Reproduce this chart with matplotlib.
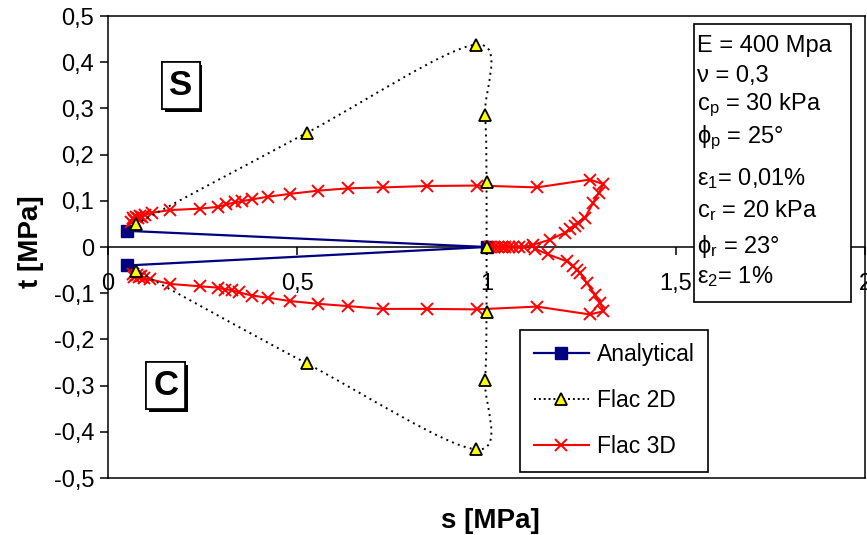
import numpy as np
import matplotlib
matplotlib.use("Agg")
import matplotlib.pyplot as plt
from matplotlib.path import Path
from matplotlib.patches import PathPatch, Rectangle
from matplotlib.lines import Line2D
from matplotlib.ticker import FuncFormatter
from matplotlib import patheffects

plt.rcParams['font.family'] = ['Liberation Sans', 'DejaVu Sans']
plt.rcParams['mathtext.fontset'] = 'custom'
plt.rcParams['mathtext.rm'] = 'Liberation Sans'
plt.rcParams['mathtext.it'] = 'Liberation Sans'

# analytical stress path
s_an = [0.05, 1.0, 0.05]
t_an = [0.035, 0.0, -0.04]

# Flac 2D (triangles, smoothed dotted line)
s_2d = [0.074, 0.525, 0.972, 0.996, 1.0, 1.0, 1.0, 0.996, 0.972, 0.525, 0.074]
t_2d = [0.050, 0.247, 0.438, 0.285, 0.140, 0.0, -0.141, -0.287, -0.438, -0.252, -0.051]

# Flac 3D, upper branch
s_3d_up = [0.060, 0.065, 0.070, 0.075, 0.080, 0.085, 0.090, 0.098, 0.115, 0.164, 0.243,
           0.291, 0.313, 0.336, 0.353, 0.380, 0.424, 0.481, 0.556, 0.635, 0.727, 0.842,
           0.974, 1.133, 1.273, 1.309, 1.296, 1.282, 1.260, 1.243, 1.234, 1.220, 1.207,
           1.168, 1.124, 1.100, 1.085, 1.070, 1.060, 1.050, 1.040, 1.030, 1.020, 1.010]
t_3d_up = [0.055, 0.062, 0.058, 0.066, 0.063, 0.068, 0.066, 0.070, 0.074, 0.080, 0.083,
           0.087, 0.092, 0.097, 0.099, 0.103, 0.109, 0.115, 0.122, 0.127, 0.129, 0.132,
           0.133, 0.129, 0.146, 0.136, 0.117, 0.096, 0.063, 0.052, 0.045, 0.038, 0.031,
           0.016, 0.005, 0.0, 0.0, 0.0, 0.0, 0.0, 0.0, 0.0, 0.0, 0.0]

# Flac 3D, lower branch
s_3d_lo = [1.128, 1.163, 1.212, 1.229, 1.238, 1.247, 1.265, 1.287, 1.300, 1.309, 1.273,
           1.133, 0.974, 0.842, 0.727, 0.635, 0.556, 0.481, 0.424, 0.380, 0.345, 0.327,
           0.310, 0.291, 0.243, 0.164, 0.111, 0.095, 0.088, 0.082, 0.076, 0.070, 0.066]
t_3d_lo = [-0.004, -0.016, -0.031, -0.042, -0.049, -0.056, -0.078, -0.103, -0.121, -0.139, -0.146,
           -0.129, -0.135, -0.134, -0.134, -0.128, -0.123, -0.117, -0.110, -0.105, -0.098, -0.093,
           -0.092, -0.088, -0.085, -0.080, -0.070, -0.068, -0.062, -0.066, -0.060, -0.064, -0.058]

params = ['E = 400 Mpa', 'ν = 0,3', r'c$_\mathrm{p}$ = 30 kPa', r'ϕ$_\mathrm{p}$ = 25°',
          r'ε$_\mathrm{1}$= 0,01%', r'c$_\mathrm{r}$ = 20 kPa', r'ϕ$_\mathrm{r}$ = 23°', r'ε$_\mathrm{2}$= 1%']


def smooth_path(xs, ys):
    # excel-like smoothed line (catmull-rom as bezier)
    pts = np.column_stack([xs, ys]).astype(float)
    n = len(pts)
    verts = [pts[0]]
    codes = [Path.MOVETO]
    for i in range(n - 1):
        p0 = pts[i - 1] if i > 0 else pts[i]
        p1 = pts[i]
        p2 = pts[i + 1]
        p3 = pts[i + 2] if i + 2 < n else pts[i + 1]
        verts += [p1 + (p2 - p0) / 6, p2 - (p3 - p1) / 6, p2]
        codes += [Path.CURVE4] * 3
    return Path(verts, codes)


fig = plt.figure(figsize=(8.67, 5.35), dpi=100)
ax = fig.add_axes([108 / 867, 1 - 478 / 535, 757 / 867, 462 / 535])

ax.plot(s_an, t_an, color='#000080', lw=1.6, marker='s', ms=9, mfc='#000080',
        mec='#000080', zorder=3)
ax.plot(s_3d_up, t_3d_up, color='red', lw=1.5, marker='x', ms=8.5, mew=1.4, zorder=4)
ax.plot(s_3d_lo, t_3d_lo, color='red', lw=1.5, marker='x', ms=8.5, mew=1.4, zorder=4)
ax.add_patch(PathPatch(smooth_path(s_2d, t_2d), fill=False, edgecolor='black', lw=1.4,
                       linestyle=(0, (1, 2.2)), zorder=5))
ax.plot(s_2d, t_2d, ls='none', marker='^', ms=8.5, mfc='yellow', mec='black', mew=1.3,
        zorder=6)

ax.set_xlim(0, 2)
ax.set_ylim(-0.5, 0.5)
ax.set_xticks([0, 0.5, 1, 1.5, 2])
ax.set_yticks(np.round(np.arange(-0.5, 0.51, 0.1), 1))


def comma(v, pos):
    txt = '%g' % round(v, 2)
    if txt == '-0':
        txt = '0'
    return txt.replace('.', ',')


ax.xaxis.set_major_formatter(FuncFormatter(comma))
ax.yaxis.set_major_formatter(FuncFormatter(comma))

ax.spines['bottom'].set_position(('data', 0))
for sp in ax.spines.values():
    sp.set_linewidth(1.1)
ax.plot([0, 1], [0, 0], transform=ax.transAxes, color='black', lw=1.1, clip_on=False)
ax.tick_params(axis='x', direction='out', length=5.5, width=1.1, pad=13, labelsize=17)
ax.tick_params(axis='y', direction='out', length=5.5, width=1.1, pad=4.5, labelsize=17)

ax.set_xlabel('s [MPa]', fontsize=20, fontweight='bold', va='center')
ax.xaxis.set_label_coords((490 - 108) / 757, (478 - 521) / 462)
ax.set_ylabel('t [MPa]', fontsize=20, fontweight='bold', va='center')
ax.yaxis.set_label_coords((31 - 108) / 757, (478 - 242) / 462)

# S / C labels
for lab, xs, ys in [('S', 0.193, 0.350), ('C', 0.153, -0.300)]:
    t = ax.text(xs, ys, lab, fontsize=25, fontweight='bold', ha='center', va='center',
                zorder=8, bbox=dict(boxstyle='square,pad=0.2', fc='white', ec='black', lw=1.2))
    t.get_bbox_patch().set_path_effects([
        patheffects.withSimplePatchShadow(offset=(2, -2), shadow_rgbFace='black', alpha=1),
        patheffects.Normal()])

# parameter box
ax.add_patch(Rectangle(((694 - 108) / 757, (478 - 302) / 462), (851 - 694) / 757,
                       (302 - 24) / 462, transform=ax.transAxes, fc='white', ec='black',
                       lw=1.2, zorder=10, clip_on=False))
baselines = [52, 82, 110, 143, 185, 217, 253, 283]
for txt, yb in zip(params, baselines):
    ax.text((697 - 108) / 757, (478 - yb) / 462, txt, transform=ax.transAxes, fontsize=17,
            ha='left', va='baseline', zorder=11)

handles = [
    Line2D([], [], color='#000080', lw=1.6, marker='s', ms=9, mfc='#000080', mec='#000080'),
    Line2D([], [], color='black', lw=1.4, ls=(0, (1, 1.5)), marker='^', ms=8.5, mfc='yellow',
           mec='black', mew=1.3),
    Line2D([], [], color='red', lw=1.5, marker='x', ms=8.5, mew=1.4),
]
leg = ax.legend(handles, ['Analytical', 'Flac 2D', 'Flac 3D'], loc='lower left',
                bbox_to_anchor=((520 - 108) / 757, (478 - 472) / 462), borderaxespad=0,
                fontsize=16.5, frameon=True, fancybox=False, edgecolor='black',
                framealpha=1, handlelength=2.4, handletextpad=0.35, labelspacing=1.0,
                borderpad=0.6)
leg.get_frame().set_linewidth(1.2)
leg.set_zorder(20)

fig.savefig('out.png', dpi=100)
